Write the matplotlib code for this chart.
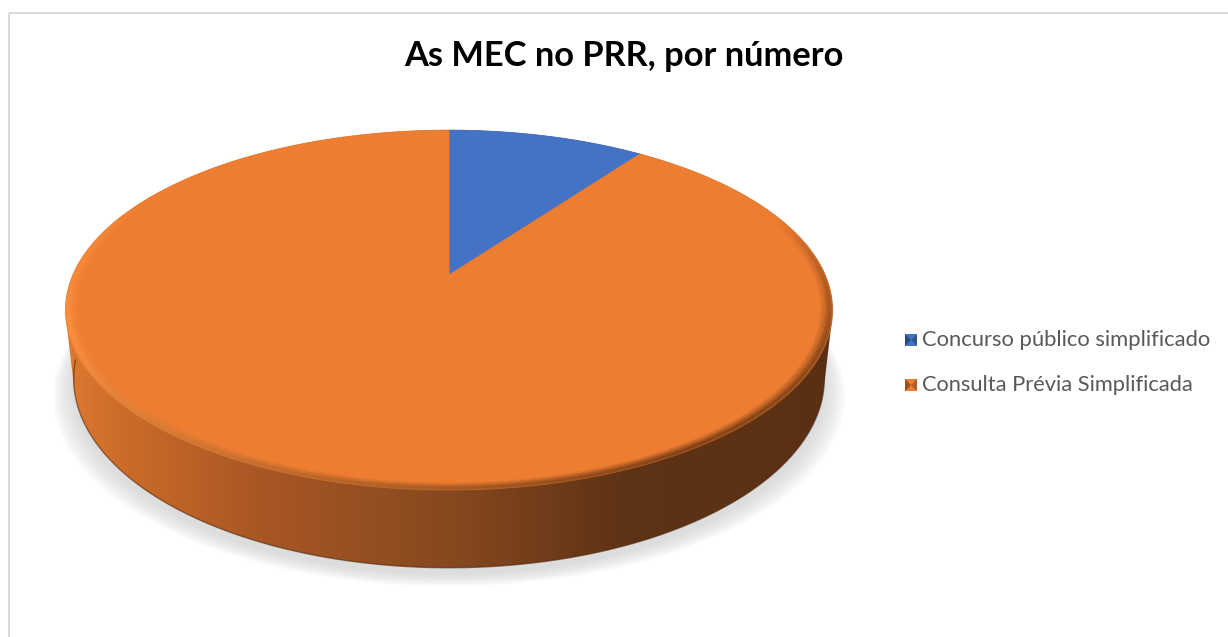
import numpy as np
import matplotlib
matplotlib.use("Agg")
import matplotlib.pyplot as plt
from matplotlib.patches import Polygon, Rectangle
from matplotlib.collections import LineCollection

# ---- data ----
title = "As MEC no PRR, por número"
categories = ["Concurso público simplificado", "Consulta Prévia Simplificada"]
values = [1, 9]
colors = ["#4472C4", "#ED7D31"]

W, H = 1228, 637
fig = plt.figure(figsize=(W / 100, H / 100), dpi=100)
ax = fig.add_axes([0, 0, 1, 1])
ax.set_xlim(0, W)
ax.set_ylim(H, 0)
ax.axis("off")

# chart border
ax.add_patch(Rectangle((9, 12.5), 1240, 700, fill=False, ec="#D9D9D9", lw=1.4, zorder=0))

# ---- perspective projection of a disc ----
cx, cy = 449.0, 275.0
phi = np.deg2rad(27.4)
s, c = np.sin(phi), np.cos(phi)
D = 4.56
f = 1715.0
h = 0.206


def proj(theta_deg, z=0.0):
    t = np.deg2rad(np.asarray(theta_deg, dtype=float))
    x = np.sin(t)
    y = np.cos(t)
    depth = y * c + D - z * s
    sx = cx + f * x / depth
    sy = cy - f * (y * s + z * c) / depth
    return sx, sy


def hull(pts):
    pts = sorted(map(tuple, pts))
    def cross(o, a, b):
        return (a[0] - o[0]) * (b[1] - o[1]) - (a[1] - o[1]) * (b[0] - o[0])
    lower, upper = [], []
    for p in pts:
        while len(lower) >= 2 and cross(lower[-2], lower[-1], p) <= 0:
            lower.pop()
        lower.append(p)
    for p in reversed(pts):
        while len(upper) >= 2 and cross(upper[-2], upper[-1], p) <= 0:
            upper.pop()
        upper.append(p)
    return np.array(lower[:-1] + upper[:-1])


th = np.linspace(0, 360, 721)
tx, ty = proj(th, 0.0)
bx, by = proj(th, -h)

# soft shadow beneath
for k in range(14, 0, -1):
    off = 6 + k * 0.9
    grow = 1 + k * 0.004
    px = cx + (bx - cx) * grow
    py = by + off
    ax.add_patch(Polygon(np.column_stack([px, py]), closed=True, fc="#9A9A9A",
                         ec="none", alpha=0.025, zorder=1))

# side wall with horizontal gradient
hp = hull(np.vstack([np.column_stack([tx, ty]), np.column_stack([bx, by])]))
side = Polygon(hp, closed=True, fc="none", ec="none", zorder=2)
ax.add_patch(side)
xs = np.linspace(tx.min() - 5, tx.max() + 5, 400)
stops_x = [60, 120, 250, 450, 620, 840]
stops_c = np.array([[222, 122, 50], [205, 108, 42], [170, 88, 36],
                    [135, 72, 31], [95, 51, 21], [90, 48, 20]]) / 255.0
grad = np.stack([np.interp(xs, stops_x, stops_c[:, i]) for i in range(3)], axis=-1)
img = ax.imshow(grad[None, :, :], extent=[xs[0], xs[-1], by.max() + 5, ty.min()],
                aspect="auto", zorder=2, interpolation="bilinear")
img.set_clip_path(side)
nearb = (th > 95) & (th < 265)
ax.plot(bx[nearb], by[nearb], color="#4E2A10", lw=1.0, alpha=0.6, zorder=3)
ax.set_xlim(0, W)
ax.set_ylim(H, 0)

# top face slices
fr = np.array(values, dtype=float) / np.sum(values)
edges = np.concatenate([[0], np.cumsum(fr) * 360])
for i, col in enumerate(colors):
    a = np.linspace(edges[i], edges[i + 1], 200)
    px, py = proj(a, 0.0)
    poly = np.column_stack([np.concatenate([[cx], px]), np.concatenate([[cy], py])])
    ax.add_patch(Polygon(poly, closed=True, fc=col, ec=col, lw=0.6, zorder=4))

# bevel along the near edge of the top face (inside the face)
seg_t = np.linspace(60, 305, 500)
mid = 0.5 * (seg_t[:-1] + seg_t[1:])
env = np.clip((mid - 70) / 40, 0, 1) * np.clip((300 - mid) / 45, 0, 1)
light = np.clip((mid - 150) / 100, 0, 1)
dark_c = np.array([110, 56, 20]) / 255.0
lite_c = np.array([255, 152, 72]) / 255.0
base_cols = dark_c[None, :] * (1 - light[:, None]) + lite_c[None, :] * light[:, None]
sx1, sy1 = proj(seg_t, 0.0)
for shrink, al in [(0.972, 0.12), (0.978, 0.22), (0.984, 0.35), (0.989, 0.5),
                   (0.994, 0.55), (0.998, 0.35)]:
    px = cx + (sx1 - cx) * shrink
    py = cy + (sy1 - cy) * shrink
    pts = np.column_stack([px, py]).reshape(-1, 1, 2)
    segs = np.concatenate([pts[:-1], pts[1:]], axis=1)
    cols = np.column_stack([base_cols, env * al])
    ax.add_collection(LineCollection(segs, colors=cols, linewidths=2.2, zorder=5))


# ---- texts ----
def fit_text(x, y, txt, target_w, size0, **kw):
    t = ax.text(x, y, txt, fontsize=size0, **kw)
    fig.canvas.draw()
    w = t.get_window_extent().width
    t.set_fontsize(size0 * target_w / w)
    return t


fit_text(624, 56, title, 438, 24, family=["Lato", "DejaVu Sans"], fontweight="bold",
         ha="center", va="center", color="#000000", zorder=6)

leg_y = [340, 385]
for i, (lab, col) in enumerate(zip(categories, colors)):
    yy = leg_y[i]
    ax.add_patch(Rectangle((905, yy - 6), 12, 12, fc=col, ec="none", zorder=6))
    ax.add_patch(Polygon([[905, yy - 6], [911, yy], [905, yy + 6]], closed=True,
                         fc="black", alpha=0.35, ec="none", zorder=7))
    ax.add_patch(Polygon([[917, yy - 6], [911, yy], [917, yy + 6]], closed=True,
                         fc="black", alpha=0.25, ec="none", zorder=7))
    tw = 291 if i == 0 else 273
    fit_text(922, yy, lab, tw, 14, family=["Lato", "DejaVu Sans"], ha="left",
             va="center", color="#595959", zorder=6)

fig.savefig("out.png", dpi=100)
